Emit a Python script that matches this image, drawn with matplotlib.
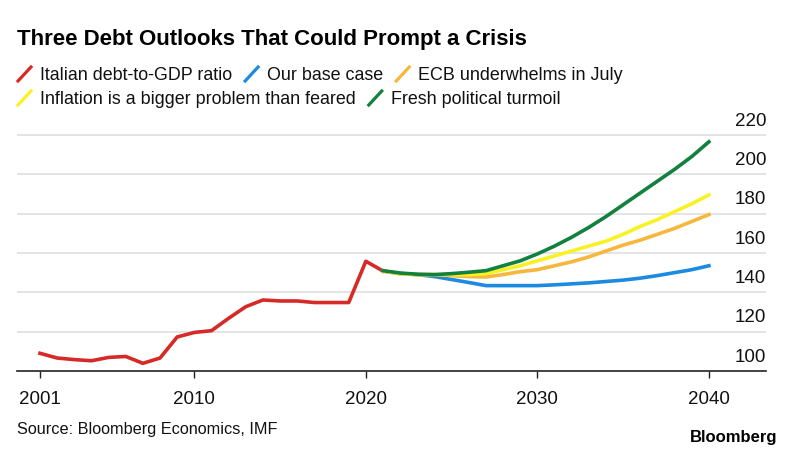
import numpy as np
import matplotlib
matplotlib.use('Agg')
from matplotlib import pyplot as plt
from matplotlib.lines import Line2D
import matplotlib.transforms as mtransforms

# historic debt-to-GDP (%)
hist_years = list(range(2001, 2022))
hist_debt = [109.0, 106.6, 105.8, 105.2, 106.9, 107.4, 103.9, 106.6, 117.3, 119.6,
             120.5, 126.8, 132.7, 136.1, 135.6, 135.6, 134.8, 134.8, 134.8, 155.8, 150.8]

# scenarios
proj_years = list(range(2021, 2041))
base_case = [150.8, 149.5, 149.0, 148.0, 146.5, 145.0, 143.4, 143.4, 143.4, 143.4,
             143.8, 144.3, 144.8, 145.5, 146.2, 147.2, 148.5, 150.0, 151.5, 153.5]
ecb_weak = [150.8, 149.5, 149.0, 149.0, 148.5, 148.0, 147.8, 149.0, 150.5, 151.5,
            153.5, 155.5, 158.0, 161.0, 164.0, 166.5, 169.5, 172.5, 176.0, 179.5]
inflation = [150.8, 149.5, 149.0, 149.0, 149.0, 149.0, 149.5, 151.5, 153.5, 156.0,
             158.5, 161.0, 163.5, 166.0, 169.5, 173.5, 177.0, 181.0, 185.0, 189.5]
turmoil = [151.0, 149.8, 149.2, 149.0, 149.5, 150.2, 151.0, 153.5, 156.0, 159.5,
           163.5, 168.0, 173.0, 178.5, 184.5, 190.5, 196.5, 202.5, 209.0, 216.5]

x_ticks = [2001, 2010, 2020, 2030, 2040]
y_ticks = [100, 120, 140, 160, 180, 200, 220]

labels = ['Italian debt-to-GDP ratio', 'Our base case', 'ECB underwhelms in July',
          'Inflation is a bigger problem than feared', 'Fresh political turmoil']
RED, BLUE, ORANGE, YELLOW, GREEN = '#d62a27', '#1c8ae0', '#f6b73c', '#f9f223', '#12803e'
colors = [RED, BLUE, ORANGE, YELLOW, GREEN]
FONT = ['Liberation Sans', 'DejaVu Sans']

W, H = 795, 452
fig = plt.figure(figsize=(W / 100, H / 100), dpi=100)
fig.patch.set_facecolor('white')

def fx(x):
    return x / W

def fy(y):
    return 1 - y / H

ax = fig.add_axes([fx(17), fy(372), fx(766) - fx(17), fy(120) - fy(372)])
ax.set_xlim(1999.66, 2043.33)
ax.set_ylim(100, 228.1)

lw = 2.6
ax.plot(hist_years, hist_debt, color=RED, lw=lw, zorder=3)
ax.plot(proj_years, base_case, color=BLUE, lw=lw, zorder=3)
ax.plot(proj_years, ecb_weak, color=ORANGE, lw=lw, zorder=3)
ax.plot(proj_years, inflation, color=YELLOW, lw=lw, zorder=3)
ax.plot(proj_years, turmoil, color=GREEN, lw=lw, zorder=3)

for s in ['left', 'right', 'top']:
    ax.spines[s].set_visible(False)
ax.spines['bottom'].set_color('#222222')
ax.spines['bottom'].set_linewidth(1.2)

for v in y_ticks[1:]:
    ax.axhline(v, color='#dcdcdc', lw=1.1, zorder=1)

ax.set_yticks([])
ax.set_xticks(x_ticks)
ax.set_xticklabels([str(v) for v in x_ticks], fontsize=13.5, family=FONT, color='#111111')
ax.tick_params(axis='x', length=5, width=1, color='#222222', pad=8.5)

trans = mtransforms.blended_transform_factory(ax.transAxes, ax.transData)
for v in y_ticks:
    ax.annotate(str(v), xy=(1.0, v), xycoords=trans, xytext=(0, 4.5),
                textcoords='offset points', ha='right', va='bottom',
                fontsize=13.5, family=FONT, color='#111111', annotation_clip=False)

# title
fig.text(fx(17), fy(39), 'Three Debt Outlooks That Could Prompt a Crisis',
         fontsize=16, fontweight='bold', va='center', ha='left',
         family=FONT, color='#000000')

# legend
fig.canvas.draw()
renderer = fig.canvas.get_renderer()
rows = [(75, [0, 1, 2]), (99, [3, 4])]
for y, idx in rows:
    x = 18
    for i in idx:
        fig.add_artist(Line2D([fx(x), fx(x + 13)], [fy(y + 7), fy(y - 7)],
                              color=colors[i], lw=2.3, transform=fig.transFigure))
        t = fig.text(fx(x + 22), fy(y), labels[i], fontsize=12.85, va='center', ha='left',
                     family=FONT, color='#111111')
        bb = t.get_window_extent(renderer)
        x = x + 22 + bb.width + 13

fig.text(fx(17), fy(430), 'Source: Bloomberg Economics, IMF', fontsize=11.7, va='center',
         ha='left', family=FONT, color='#111111')
fig.text(fx(777), fy(438), 'Bloomberg', fontsize=12, fontweight='bold', va='center',
         ha='right', family=FONT, color='#000000')

fig.savefig('out.png', dpi=100)
